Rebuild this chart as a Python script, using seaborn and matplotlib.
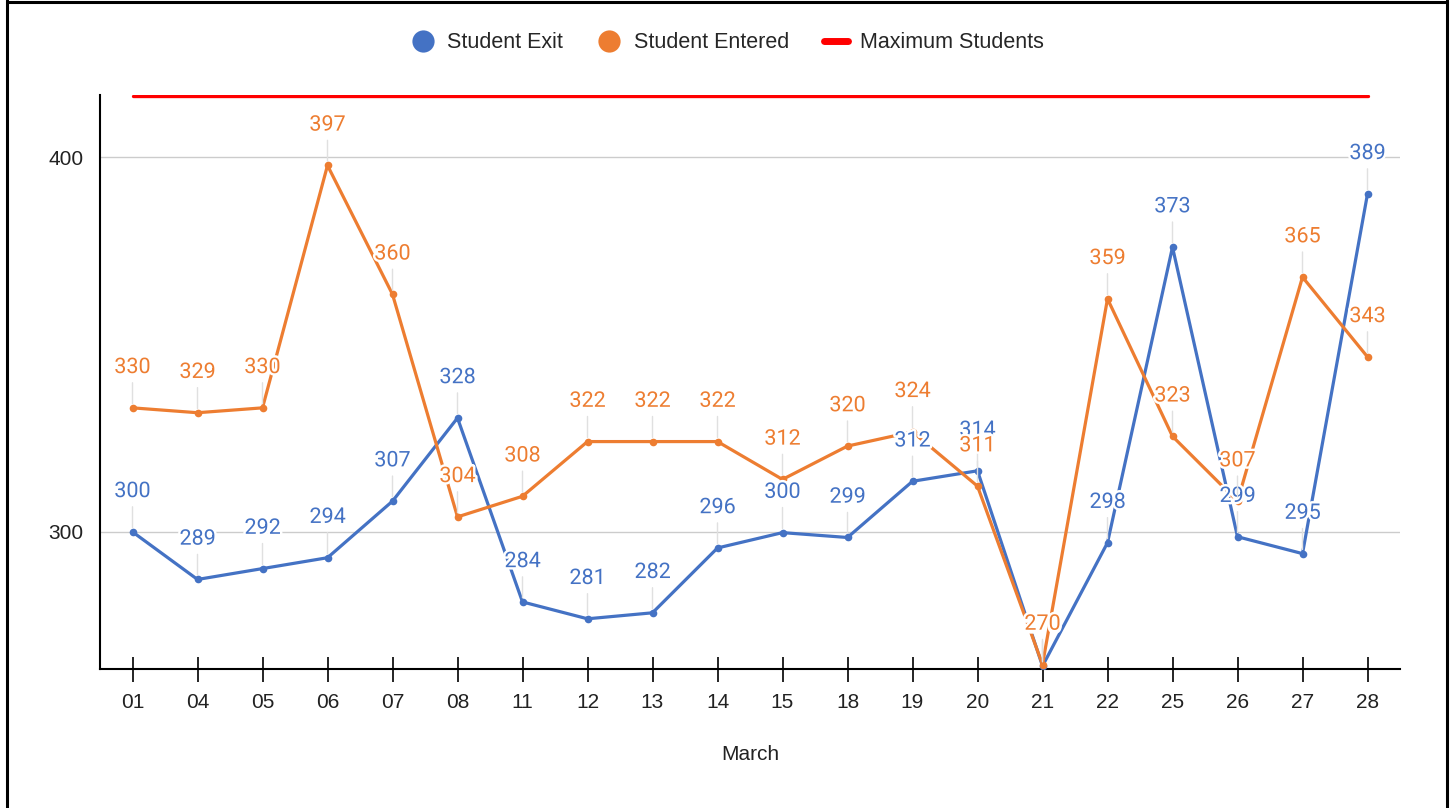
import pandas as pd
import matplotlib.pyplot as plt
import matplotlib.patheffects as pe
from matplotlib.lines import Line2D
import seaborn as sns

# days of March shown on the x axis
days = ["01", "04", "05", "06", "07", "08", "11", "12", "13", "14",
        "15", "18", "19", "20", "21", "22", "25", "26", "27", "28"]

# point heights
exit_vals = [300.0, 287.3, 290.2, 293.1, 308.2, 330.4, 281.3, 276.8, 278.4, 295.7,
             299.8, 298.5, 313.5, 316.3, 264.2, 297.1, 376.0, 298.7, 294.2, 390.2]
entered_vals = [333.1, 331.8, 333.1, 397.8, 363.4, 304.0, 309.5, 324.1, 324.1, 324.1,
                314.0, 322.9, 326.7, 312.2, 264.6, 362.2, 325.5, 308.2, 368.0, 346.7]
max_students = [416.3] * len(days)

# data labels printed above the points
exit_labels = ["300", "289", "292", "294", "307", "328", "284", "281", "282", "296",
               "300", "299", "312", "314", "270", "298", "373", "299", "295", "389"]
entered_labels = ["330", "329", "330", "397", "360", "304", "308", "322", "322", "322",
                  "312", "320", "324", "311", "270", "359", "323", "307", "365", "343"]

BLUE = "#4472C4"
ORANGE = "#ED7D31"
RED = "#FF0000"

df = pd.DataFrame({
    "day": days * 2,
    "students": exit_vals + entered_vals,
    "series": ["Student Exit"] * len(days) + ["Student Entered"] * len(days),
})
df_max = pd.DataFrame({"day": days, "students": max_students})

sns.set_style("white")
plt.rcParams["font.family"] = ["Liberation Sans", "DejaVu Sans"]

fig = plt.figure(figsize=(14.55, 8.08), dpi=100)
ax = fig.add_axes([100 / 1455, 1 - 669 / 808, 1300 / 1455, (669 - 95) / 808])

sns.lineplot(data=df_max, x="day", y="students", color=RED, lw=2.4, ax=ax,
             sort=False, zorder=2)
sns.lineplot(data=df, x="day", y="students", hue="series",
             palette={"Student Exit": BLUE, "Student Entered": ORANGE},
             marker="o", markersize=5.5, markeredgewidth=0, lw=2.3,
             sort=False, ax=ax, legend=False, zorder=3)

halo = [pe.withStroke(linewidth=3.5, foreground="white")]
for labels, vals, col in [(exit_labels, exit_vals, BLUE), (entered_labels, entered_vals, ORANGE)]:
    for i, (lab, v) in enumerate(zip(labels, vals)):
        ax.annotate(lab, xy=(i, v), xytext=(0, 29), textcoords="offset points",
                    ha="center", va="center", color=col, fontsize=15.5,
                    family=["Roboto", "DejaVu Sans"], path_effects=halo, zorder=5,
                    arrowprops=dict(arrowstyle="-", color="#e0e0e0", lw=1,
                                    shrinkA=1, shrinkB=3))

ax.set_xlim(-0.5, 19.5)
ax.set_ylim(263.4, 416.6)
ax.set_yticks([300, 400])
ax.yaxis.grid(True, color="#cccccc", lw=1)
ax.xaxis.grid(False)
ax.set_axisbelow(True)

for s in ["top", "right"]:
    ax.spines[s].set_visible(False)
for s in ["left", "bottom"]:
    ax.spines[s].set_color("black")
    ax.spines[s].set_linewidth(1.5)

ax.tick_params(axis="x", direction="inout", length=18, width=1.2, color="black",
               labelsize=15, labelcolor="#222222", pad=8, bottom=True)
ax.tick_params(axis="y", length=0, labelsize=15, labelcolor="#222222", pad=12)

ax.set_xlabel("March", fontsize=15, color="#222222", labelpad=24)
ax.set_ylabel("")

handles = [
    Line2D([0], [0], marker="o", color="none", markerfacecolor=BLUE, markeredgewidth=0, markersize=16),
    Line2D([0], [0], marker="o", color="none", markerfacecolor=ORANGE, markeredgewidth=0, markersize=16),
    Line2D([0], [0], color=RED, lw=5),
]
fig.legend(handles, ["Student Exit", "Student Entered", "Maximum Students"],
           loc="center", bbox_to_anchor=(0.5, 1 - 43 / 808), ncol=3, frameon=False,
           fontsize=15.5, handlelength=1.1, handletextpad=0.6, columnspacing=1.6)

# black frame around the picture
for xs, ys in [([7 / 1455, 7 / 1455], [0, 1]),
               ([1447 / 1455, 1447 / 1455], [0, 1]),
               ([7 / 1455, 1447 / 1455], [1 - 1.5 / 808, 1 - 1.5 / 808])]:
    fig.add_artist(Line2D(xs, ys, color="black", lw=2.2, transform=fig.transFigure))

fig.savefig("out.png", dpi=100)
